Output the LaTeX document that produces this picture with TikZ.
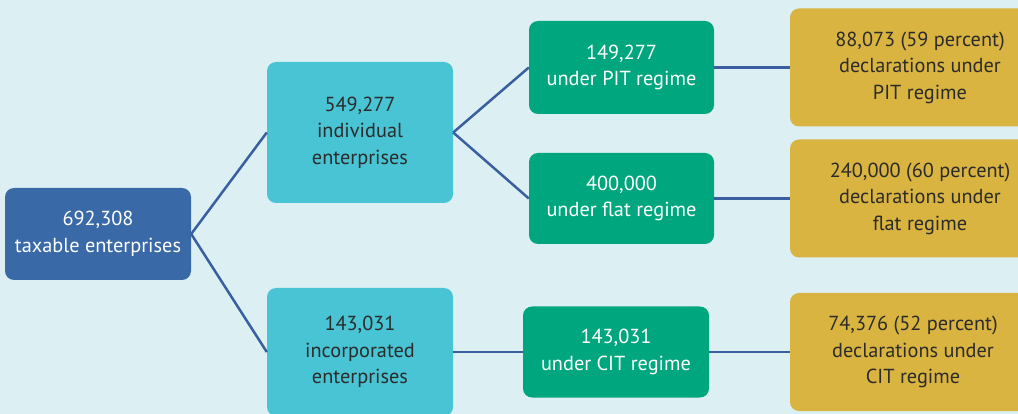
\documentclass[tikz,border=0pt]{standalone}
\usepackage{fontspec}
\setmainfont{PT Sans}
\definecolor{bg}{HTML}{DCF0F3}
\definecolor{bluebox}{HTML}{3A69A8}
\definecolor{tealbox}{HTML}{48C4D4}
\definecolor{greenbox}{HTML}{00A67E}
\definecolor{goldbox}{HTML}{D9B441}
\definecolor{linec}{HTML}{3A5FA0}
\definecolor{darktext}{HTML}{2B2B2B}
\tikzset{
  x=1pt,y=-1pt,
  box/.style={rounded corners=9pt, align=center, inner sep=0pt, font=\fontsize{20.3}{26.5}\selectfont},
  bluenode/.style={box, fill=bluebox, text=white},
  tealnode/.style={box, fill=tealbox, text=darktext},
  greennode/.style={box, fill=greenbox, text=white},
  goldnode/.style={box, fill=goldbox, text=darktext},
  conn/.style={draw=linec, line width=2.5pt}
}
\begin{document}
\begin{tikzpicture}
\useasboundingbox (0,0) rectangle (1018,414);
\clip (0,0) rectangle (1018,414);
\fill[bg] (0,0) rectangle (1018,414);
% root
\node[bluenode, minimum width=186pt, minimum height=92pt] (root) at (98,234) {692,308\\taxable enterprises};
% level 1
\node[tealnode, minimum width=186pt, minimum height=141pt] (ind) at (360,132.5) {549,277\\individual\\enterprises};
\node[tealnode, minimum width=186pt, minimum height=128pt] (inc) at (360,352) {143,031\\incorporated\\enterprises};
% level 2
\node[greennode, minimum width=185pt, minimum height=93pt] (pit) at (621.5,67.5) {149,277\\under PIT regime};
\node[greennode, minimum width=185pt, minimum height=91pt] (flat) at (621.5,198.5) {400,000\\under flat regime};
\node[greennode, minimum width=186pt, minimum height=91pt] (cit) at (616,352) {143,031\\under CIT regime};
% level 3
\node[goldnode, minimum width=260pt, minimum height=118pt] (dpit) at (920,67.5) {88,073 (59 percent)\\declarations under\\PIT regime};
\node[goldnode, minimum width=260pt, minimum height=118pt] (dflat) at (920,198.5) {240,000 (60 percent)\\declarations under\\flat regime};
\node[goldnode, minimum width=246pt, minimum height=118pt] (dcit) at (913,352) {74,376 (52 percent)\\declarations under\\CIT regime};
% connectors
\draw[conn] (root.east) -- (ind.west);
\draw[conn] (root.east) -- (inc.west);
\draw[conn] (ind.east) -- (pit.west);
\draw[conn] (ind.east) -- (flat.west);
\draw[conn] (inc.east) -- (cit.west);
\draw[conn] (pit.east) -- (dpit.west);
\draw[conn] (flat.east) -- (dflat.west);
\draw[conn] (cit.east) -- (dcit.west);
\end{tikzpicture}
\end{document}
